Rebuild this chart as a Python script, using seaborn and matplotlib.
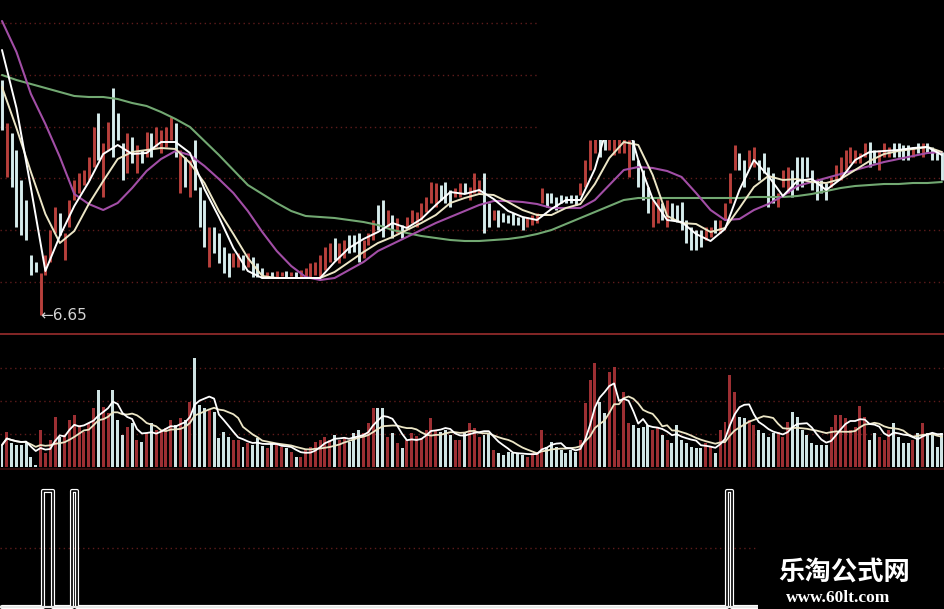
import numpy as np
import pandas as pd
import matplotlib
matplotlib.use("Agg")
import matplotlib.pyplot as plt
from matplotlib.patches import Rectangle
from matplotlib.lines import Line2D
import seaborn as sns

# ---------------- data ----------------
open_px = [
    9.00, 8.03, 8.47, 8.30, 8.00, 7.80, 7.25, 7.18, 6.65, 7.05,
    7.18, 7.47, 7.67, 7.20, 7.53, 7.80, 7.87, 7.95, 8.00, 8.13,
    8.67, 7.83, 8.30, 8.92, 8.67, 8.37, 8.07, 8.43, 8.07, 8.30,
    8.23, 8.47, 8.33, 8.27, 8.33, 8.40, 8.57, 7.87, 8.23, 7.83,
    8.40, 7.93, 7.80, 7.13, 7.53, 7.47, 7.33, 7.27, 7.13, 7.13,
    7.25, 7.13, 7.23, 7.17, 7.12, 7.03, 7.08, 7.03, 7.04, 7.09,
    7.04, 7.08, 7.03, 7.03, 7.03, 7.05, 7.03, 7.10, 7.18, 7.42,
    7.17, 7.22, 7.45, 7.45, 7.47, 7.22, 7.35, 7.40, 7.75, 7.80,
    7.53, 7.65, 7.47, 7.55, 7.52, 7.57, 7.53, 7.60, 7.68, 7.77,
    7.73, 7.95, 7.98, 7.90, 7.83, 7.83, 7.97, 7.80, 7.87, 7.87,
    8.07, 7.77, 7.60, 7.70, 7.67, 7.65, 7.67, 7.63, 7.63, 7.53,
    7.55, 7.57, 7.77, 7.87, 7.87, 7.83, 7.85, 7.84, 7.85, 7.85,
    7.85, 7.93, 8.10, 8.27, 8.50, 8.50, 8.30, 8.25, 8.27, 8.27,
    8.03, 8.40, 8.20, 8.10, 7.93, 7.53, 7.57, 7.77, 7.53, 7.77,
    7.75, 7.78, 7.60, 7.53, 7.50, 7.50, 7.40, 7.43, 7.60, 7.47,
    7.60, 7.77, 8.10, 8.27, 8.20, 8.12, 8.13, 8.20, 8.27, 8.13,
    8.07, 7.73, 7.93, 7.87, 8.10, 8.23, 8.23, 8.23, 8.10, 8.00,
    8.00, 7.97, 7.93, 8.00, 8.00, 8.10, 8.17, 8.17, 8.17, 8.23,
    8.38, 8.30, 8.10, 8.23, 8.23, 8.37, 8.37, 8.35, 8.35, 8.23,
    8.37, 8.23, 8.37, 8.33, 8.30, 8.28,
]
close_px = [
    8.50, 8.57, 7.93, 7.53, 7.45, 7.40, 7.05, 7.08, 7.07, 7.25,
    7.50, 7.73, 7.45, 7.47, 7.80, 8.00, 8.07, 8.10, 8.23, 8.53,
    8.20, 8.37, 8.58, 8.23, 8.40, 8.00, 8.47, 8.17, 8.35, 8.17,
    8.48, 8.23, 8.53, 8.50, 8.53, 8.63, 8.23, 8.30, 7.93, 8.20,
    7.90, 7.53, 7.33, 7.53, 7.27, 7.17, 7.07, 7.03, 7.27, 7.27,
    7.10, 7.27, 7.03, 7.03, 7.02, 7.08, 7.03, 7.09, 7.08, 7.03,
    7.08, 7.03, 7.10, 7.12, 7.17, 7.18, 7.25, 7.33, 7.37, 7.20,
    7.37, 7.40, 7.27, 7.28, 7.18, 7.40, 7.47, 7.60, 7.50, 7.43,
    7.70, 7.42, 7.62, 7.42, 7.63, 7.70, 7.68, 7.77, 7.83, 7.98,
    7.97, 7.80, 7.77, 7.73, 7.92, 7.97, 7.87, 7.93, 8.07, 8.00,
    7.47, 7.53, 7.70, 7.53, 7.58, 7.57, 7.55, 7.55, 7.50, 7.63,
    7.65, 7.67, 7.92, 7.73, 7.77, 7.70, 7.77, 7.77, 7.77, 7.75,
    7.97, 8.20, 8.40, 8.45, 8.23, 8.30, 8.60, 8.55, 8.50, 8.45,
    8.40, 8.20, 7.93, 7.80, 7.67, 7.80, 7.83, 7.60, 7.80, 7.60,
    7.58, 7.50, 7.37, 7.30, 7.30, 7.33, 7.53, 7.53, 7.47, 7.60,
    7.77, 8.07, 8.35, 8.10, 7.93, 8.30, 8.33, 8.00, 8.07, 7.73,
    7.77, 7.87, 8.10, 8.13, 7.83, 7.90, 7.93, 8.03, 7.90, 7.80,
    7.87, 7.80, 8.03, 8.15, 8.23, 8.30, 8.33, 8.30, 8.27, 8.37,
    8.13, 8.17, 8.30, 8.37, 8.33, 8.23, 8.23, 8.20, 8.20, 8.33,
    8.27, 8.37, 8.27, 8.20, 8.20, 8.00,
]
volume = [
    2.2, 3.5, 2.4, 2.2, 2.2, 2.4, 1.0, 0.2, 3.7, 1.4,
    2.7, 5.0, 3.0, 3.2, 4.7, 5.2, 4.2, 3.5, 4.4, 5.9,
    7.7, 6.0, 5.4, 7.7, 4.7, 3.2, 4.0, 4.4, 2.7, 2.5,
    3.4, 4.4, 3.7, 3.7, 3.9, 4.7, 4.2, 4.9, 4.7, 6.5,
    10.9, 6.2, 5.9, 5.7, 5.5, 2.9, 3.5, 3.0, 2.7, 2.7,
    2.0, 2.4, 2.2, 2.9, 2.1, 1.9, 2.4, 2.2, 2.0, 1.9,
    1.5, 1.0, 1.0, 1.7, 2.0, 2.5, 2.7, 3.0, 2.7, 3.2,
    2.7, 3.0, 2.5, 3.4, 3.7, 3.4, 4.4, 5.9, 5.9, 5.9,
    3.0, 3.4, 2.4, 1.9, 2.7, 3.4, 3.1, 2.9, 3.7, 4.9,
    3.7, 3.5, 3.7, 3.2, 2.7, 2.7, 3.4, 4.4, 3.9, 3.0,
    3.2, 3.4, 1.7, 1.4, 1.2, 1.5, 1.4, 1.4, 1.2, 1.0,
    1.4, 1.5, 3.7, 2.0, 2.5, 2.0, 1.7, 1.4, 1.7, 1.5,
    2.7, 6.4, 8.7, 10.4, 6.5, 5.4, 9.5, 10.0, 1.7, 7.5,
    4.4, 4.2, 3.9, 4.0, 4.2, 3.7, 3.9, 3.2, 2.7, 2.4,
    4.2, 2.7, 2.4, 2.0, 1.9, 1.9, 2.4, 2.0, 1.4, 3.7,
    4.5, 9.2, 7.5, 5.0, 4.9, 4.7, 4.2, 3.7, 3.4, 3.0,
    3.4, 3.5, 3.0, 4.5, 5.5, 5.0, 3.7, 3.2, 2.4, 2.2,
    2.2, 2.2, 4.0, 5.2, 5.2, 4.9, 3.7, 4.0, 6.1, 5.0,
    2.7, 3.4, 3.0, 2.7, 3.7, 4.4, 3.0, 2.4, 2.4, 2.7,
    3.4, 4.4, 3.4, 3.2, 2.0, 3.4,
]
# moving-average lines, read every third bar
ma_bars = list(range(0, 196, 3))
ma5 = [
    9.30, 8.72, 7.92, 7.09, 7.44, 7.74, 7.98, 8.26, 8.35, 8.26,
    8.27, 8.38, 8.38, 8.27, 7.91, 7.63, 7.32, 7.09, 7.02, 7.02,
    7.02, 7.02, 7.02, 7.18, 7.32, 7.41, 7.48, 7.57, 7.52, 7.61,
    7.75, 7.88, 7.86, 7.90, 7.81, 7.69, 7.63, 7.60, 7.71, 7.80,
    7.80, 8.11, 8.60, 8.70, 8.20, 7.81, 7.60, 7.58, 7.46, 7.39,
    7.51, 7.90, 8.20, 8.04, 7.84, 7.99, 8.01, 7.90, 8.01, 8.20,
    8.28, 8.29, 8.30, 8.32, 8.33, 8.25,
]
ma10 = [
    8.93, 8.52, 8.08, 7.66, 7.37, 7.49, 7.76, 7.99, 8.21, 8.28,
    8.30, 8.32, 8.31, 8.17, 7.97, 7.69, 7.46, 7.22, 7.04, 7.02,
    7.02, 7.02, 7.02, 7.08, 7.18, 7.28, 7.37, 7.43, 7.50, 7.57,
    7.65, 7.77, 7.82, 7.86, 7.85, 7.78, 7.70, 7.65, 7.65, 7.72,
    7.76, 7.96, 8.22, 8.38, 8.35, 8.05, 7.64, 7.57, 7.56, 7.48,
    7.52, 7.72, 7.93, 8.04, 8.00, 8.01, 7.98, 7.97, 8.01, 8.10,
    8.19, 8.26, 8.29, 8.31, 8.33, 8.28,
]
ma20 = [
    9.59, 9.28, 8.86, 8.56, 8.23, 7.86, 7.76, 7.70, 7.77, 7.92,
    8.09, 8.21, 8.29, 8.25, 8.14, 8.01, 7.87, 7.69, 7.48, 7.29,
    7.14, 7.03, 7.00, 7.02, 7.10, 7.18, 7.29, 7.36, 7.43, 7.50,
    7.57, 7.63, 7.69, 7.75, 7.79, 7.79, 7.78, 7.76, 7.72, 7.72,
    7.72, 7.80, 7.95, 8.10, 8.13, 8.12, 8.09, 8.03, 7.87, 7.70,
    7.60, 7.61, 7.70, 7.76, 7.84, 7.94, 7.98, 8.02, 8.06, 8.10,
    8.14, 8.18, 8.21, 8.24, 8.27, 8.28,
]
ma60 = [
    9.05, 9.00, 8.96, 8.92, 8.88, 8.84, 8.83, 8.83, 8.81, 8.77,
    8.74, 8.68, 8.61, 8.53, 8.39, 8.25, 8.10, 7.95, 7.86, 7.77,
    7.69, 7.64, 7.63, 7.62, 7.60, 7.58, 7.55, 7.50, 7.47, 7.44,
    7.42, 7.40, 7.39, 7.39, 7.40, 7.41, 7.43, 7.46, 7.50, 7.56,
    7.62, 7.68, 7.74, 7.80, 7.82, 7.82, 7.82, 7.82, 7.82, 7.82,
    7.82, 7.82, 7.83, 7.83, 7.83, 7.84, 7.86, 7.89, 7.92, 7.94,
    7.95, 7.96, 7.96, 7.97, 7.97, 7.98,
]
signal_bars = [9, 10, 15, 151]
signal_vals = [1.0, 1.0, 1.0, 1.0]
low_bar = 8
low_label = "6.65"
price_grid = [9.57, 9.05, 8.53, 8.02, 7.50, 6.98]
vol_grid = [9.9, 6.6, 3.3]
sig_grid = [0.51]

# ---------------- frame ----------------
N = len(open_px)
bars = np.arange(N)
df = pd.DataFrame({"bar": bars, "open": open_px, "close": close_px, "volume": volume})
df["dir"] = np.where(df["close"] >= df["open"], "up", "down")
df["lo"] = df[["open", "close"]].min(axis=1)
df["hi"] = df[["open", "close"]].max(axis=1)
df["vma5"] = df["volume"].rolling(5, min_periods=1).mean()
df["vma10"] = df["volume"].rolling(10, min_periods=1).mean()
sig = np.zeros(N)
sig[signal_bars] = signal_vals

sns.set_theme(style="dark")
plt.rcParams["font.family"] = ["DejaVu Sans"]

RED_C = "#b8403c"
WHITE_C = "#d6ecec"
RED_V = "#9c2f33"
WHITE_V = "#cfe3e3"
GRID = "#5e1c1c"

W, H = 945, 609
fig = plt.figure(figsize=(W / 100, H / 100), dpi=100, facecolor="black")


def add_px_axes(top, bottom):
    ax = fig.add_axes([0, 1 - bottom / H, 1, (bottom - top) / H])
    ax.set_facecolor("black")
    return ax


ax_p = add_px_axes(0, 333)
ax_v = add_px_axes(336, 467)
ax_s = add_px_axes(470, 609)

step = 4.82
xlim = (-2 / step, (W - 2) / step)

# ---------------- price panel ----------------
for g in price_grid:
    ax_p.axhline(g, color=GRID, lw=1.0, ls=(0, (1, 2.5)), zorder=0.5)
cols = np.where(df["dir"] == "up", RED_C, WHITE_C)
ax_p.vlines(df["bar"], df["lo"], df["hi"], colors=cols, lw=2.1, zorder=2)
sns.lineplot(x=ma_bars, y=ma60, ax=ax_p, color="#72a872", lw=1.5, zorder=3)
sns.lineplot(x=ma_bars, y=ma20, ax=ax_p, color="#a24ea6", lw=1.5, zorder=3)
sns.lineplot(x=ma_bars, y=ma10, ax=ax_p, color="#ece6c6", lw=1.4, zorder=4)
sns.lineplot(x=ma_bars, y=ma5, ax=ax_p, color="#ffffff", lw=1.4, zorder=4)
low_val = min(open_px[low_bar], close_px[low_bar])
ax_p.text(low_bar - 0.15, low_val, "\u2190" + low_label, color="#d4d4d4", fontsize=11,
          ha="left", va="center", zorder=6)
# black cover over the top-right of the price area (as in the screenshot)
ax_p.add_patch(Rectangle((111.2, 8.40), 100, 2.0, facecolor="black", edgecolor="none", zorder=20))
ax_p.set_xlim(*xlim)
ax_p.set_ylim(9.80 - 3.33, 9.80)

# ---------------- volume panel ----------------
for g in vol_grid:
    ax_v.axhline(g, color=GRID, lw=1.0, ls=(0, (1, 2.5)), zorder=0.5)
sns.barplot(data=df, x="bar", y="volume", hue="dir", palette={"up": RED_V, "down": WHITE_V},
            dodge=False, legend=False, native_scale=True, width=0.62, errorbar=None,
            saturation=1, linewidth=0, ax=ax_v, zorder=2)
sns.lineplot(data=df, x="bar", y="vma10", ax=ax_v, color="#ece6c6", lw=1.3, zorder=3)
sns.lineplot(data=df, x="bar", y="vma5", ax=ax_v, color="#ffffff", lw=1.3, zorder=3)
ax_v.set_xlim(*xlim)
ax_v.set_ylim(0, 13.1)

# ---------------- signal panel ----------------
for g in sig_grid:
    ax_s.axhline(g, color=GRID, lw=1.0, ls=(0, (1, 2.5)), zorder=0.5)
sns.lineplot(x=bars, y=sig, ax=ax_s, color="white", lw=3.0, drawstyle="steps-mid", zorder=2)
sns.lineplot(x=bars, y=sig, ax=ax_s, color="black", lw=1.2, drawstyle="steps-mid", zorder=3)
ax_s.axhline(0, color="#e8e8e8", lw=1.6, zorder=4)
ax_s.set_xlim(*xlim)
ax_s.set_ylim(-0.0172, 1.181)

for ax in (ax_p, ax_v, ax_s):
    ax.set_axis_off()

# separators
fig.add_artist(Line2D([0, 1], [1 - 334 / H] * 2, transform=fig.transFigure, color="#8e2a2a", lw=1.3))
fig.add_artist(Line2D([0, 1], [1 - 468.5 / H] * 2, transform=fig.transFigure, color="#3a1010", lw=1.2))

# watermark
fig.add_artist(Rectangle((758 / W, 0), (W - 758) / W, 69 / H, transform=fig.transFigure,
                         facecolor="black", edgecolor="none", zorder=30))
fig.text(844 / W, 1 - 572 / H, "乐淘公式网", fontsize=19, color="white", fontweight="bold",
         family=["Noto Sans CJK SC", "DejaVu Sans"], ha="center", va="center", zorder=31)
fig.text(838 / W, 1 - 598 / H, "www.60lt.com", fontsize=12.5, color="white", fontweight="bold",
         family=["Liberation Serif", "DejaVu Serif"], ha="center", va="center", zorder=31)

fig.savefig("out.png", dpi=100, facecolor="black")
